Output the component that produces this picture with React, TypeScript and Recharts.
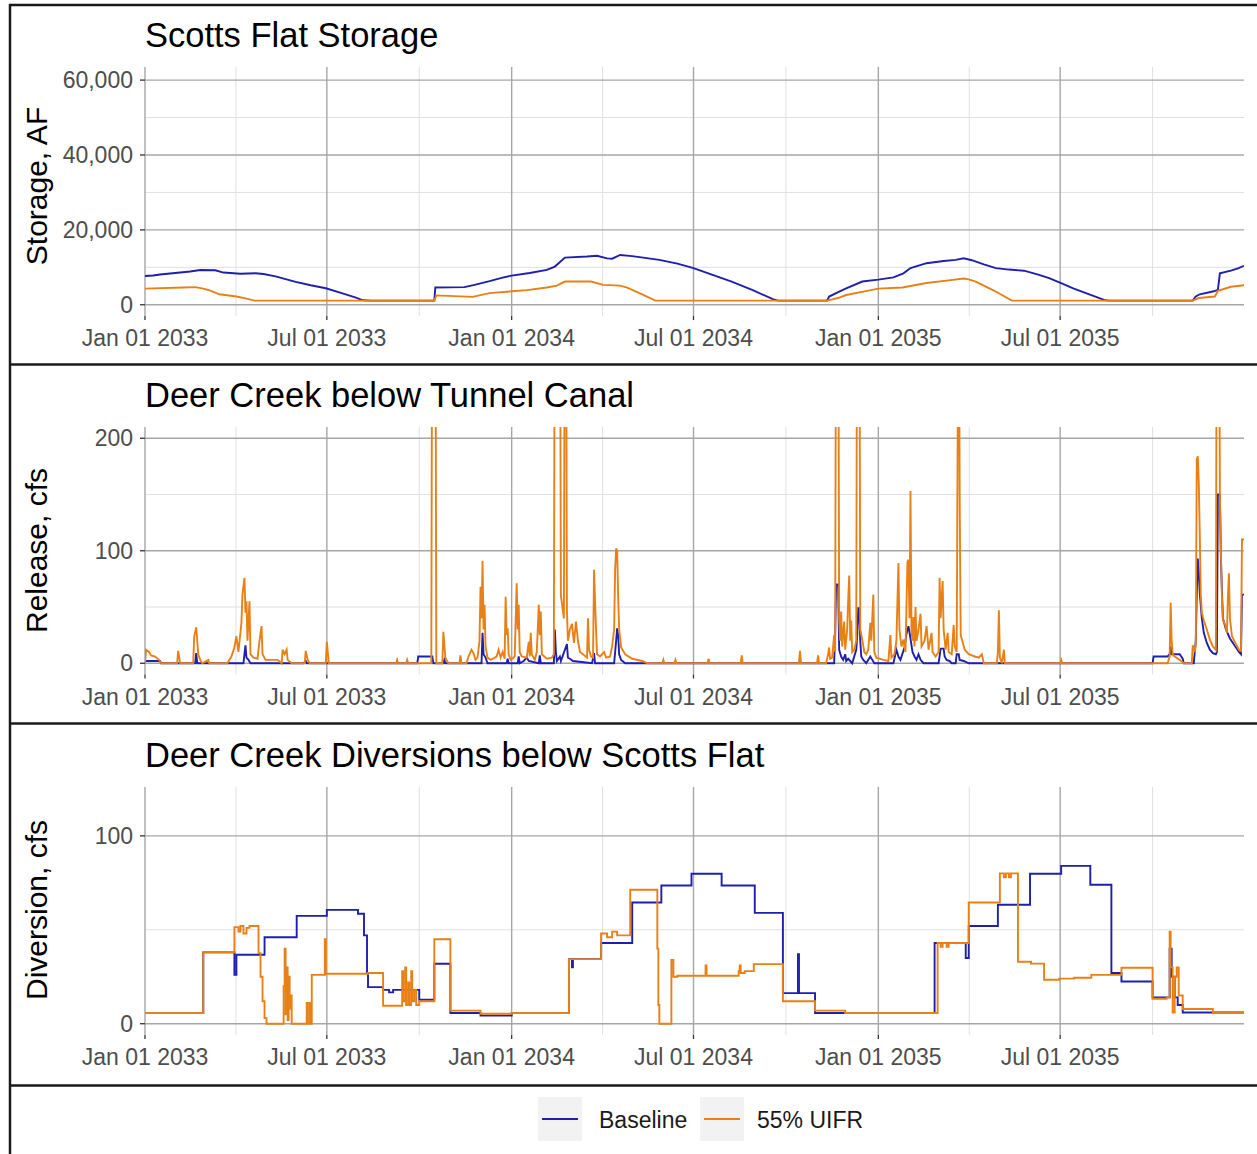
import React from "react";
import { LineChart, Line, XAxis, YAxis, CartesianGrid } from "recharts";

type Pt = [number, number];

// x axis: days since Jan 01 2033
const dateTicks = [0, 181, 365, 546, 730, 911];
const dateLabels = ["Jan 01 2033", "Jul 01 2033", "Jan 01 2034", "Jul 01 2034", "Jan 01 2035", "Jul 01 2035"];
const minorDates = [90.5, 273, 455.5, 638, 820.5, 1003];
const dayDomain = [0, 1094];

const storageTicks = [0, 20000, 40000, 60000];
const storageMinor = [10000, 30000, 50000];
const releaseTicks = [0, 100, 200];
const releaseMinor = [50, 150];
const diversionTicks = [0, 100];
const diversionMinor = [50];

const seriesNames = ["Baseline", "55% UIFR"];
const BLUE = "#1f1fae";
const ORANGE = "#e98015";

// Scotts Flat storage, AF
const storageBaseline: Pt[] = [
  [0, 7700], [8, 7800], [15, 8100], [30, 8500], [45, 8900], [55, 9300], [70, 9200], [78, 8600],
  [95, 8300], [110, 8400], [118, 8200], [130, 7600], [139, 6900], [150, 6100], [165, 5200],
  [180, 4400], [195, 3200], [210, 1900], [217, 1200], [225, 1100], [288, 1100], [289, 4600],
  [318, 4700], [328, 5300], [343, 6300], [355, 7200], [365, 7800], [383, 8500], [400, 9300],
  [408, 10200], [418, 12600], [440, 12900], [450, 13100], [460, 12400], [465, 12300], [473, 13300],
  [485, 13000], [512, 12000], [530, 11000], [546, 9800], [565, 8000], [584, 6200], [605, 3900],
  [625, 1500], [630, 1100], [679, 1100], [681, 2200], [690, 3400], [698, 4400], [714, 6200],
  [730, 6700], [745, 7300], [755, 8400], [762, 9800], [778, 11100], [795, 11700], [807, 12000],
  [815, 12400], [823, 11900], [835, 10800], [847, 9800], [860, 9400], [875, 9100], [890, 8000],
  [900, 7100], [912, 5800], [924, 4400], [940, 2800], [956, 1200], [960, 1100], [1043, 1100],
  [1046, 2200], [1050, 2800], [1064, 3600], [1068, 4000], [1070, 8400], [1081, 9100],
  [1088, 9700], [1094, 10400],
];
const storageUifr: Pt[] = [
  [0, 4300], [38, 4600], [50, 4700], [58, 4300], [65, 3800], [74, 2800], [91, 2200], [100, 1700],
  [109, 1100], [288, 1100], [290, 2500], [326, 2100], [343, 3100], [365, 3600], [380, 3900],
  [400, 4600], [410, 5100], [418, 6200], [444, 6200], [456, 5300], [473, 5100], [480, 4600],
  [495, 2800], [508, 1100], [679, 1100], [690, 1800], [698, 2600], [715, 3500], [730, 4300],
  [754, 4600], [778, 5800], [800, 6500], [815, 7000], [820, 6800], [827, 6200], [845, 3800],
  [863, 1100], [1043, 1100], [1049, 1800], [1065, 2200], [1068, 3700], [1081, 4800], [1094, 5200],
];

// Deer Creek below Tunnel Canal, cfs
const releaseBaseline: Pt[] = [
  [0, 2], [15, 2], [16, 0], [50, 0], [51, 9], [52, 0], [98, 0], [99, 8], [100, 16], [101, 5],
  [103, 3], [105, 0], [158, 0], [160, 2], [161, 0], [271, 0], [272, 6], [286, 6], [287, 0],
  [297, 0], [298, 3], [299, 0], [335, 0], [336, 27], [337, 8], [339, 5], [341, 0], [360, 0],
  [361, 4], [362, 0], [371, 0], [372, 6], [373, 0], [377, 2], [380, 5], [382, 2], [392, 0],
  [393, 7], [394, 0], [407, 0], [408, 30], [409, 10], [410, 2], [413, 6], [414, 2], [420, 17],
  [421, 5], [423, 4], [426, 2], [445, 0], [447, 9], [448, 0], [467, 0], [469, 20], [470, 31],
  [471, 25], [472, 8], [474, 3], [478, 0], [686, 0], [687, 25], [688, 70], [690, 70], [691, 12],
  [693, 6], [695, 3], [697, 8], [698, 2], [700, 4], [702, 2], [704, 0], [708, 12], [709, 25],
  [710, 49], [711, 49], [712, 20], [713, 6], [715, 3], [718, 0], [722, 6], [724, 3], [726, 0],
  [745, 0], [748, 12], [750, 6], [752, 3], [756, 14], [758, 26], [760, 33], [762, 22], [764, 10],
  [766, 6], [768, 3], [770, 8], [772, 3], [775, 0], [790, 0], [792, 13], [795, 13], [796, 6],
  [798, 3], [801, 2], [803, 0], [807, 0], [808, 8], [810, 8], [811, 3], [815, 2], [820, 0],
  [1003, 0], [1004, 6], [1018, 6], [1020, 8], [1021, 15], [1022, 8], [1030, 8], [1033, 4],
  [1034, 0], [1044, 0], [1046, 20], [1047, 62], [1048, 93], [1049, 80], [1050, 62], [1052, 40],
  [1054, 27], [1057, 18], [1060, 12], [1063, 9], [1066, 8], [1067, 10], [1068, 150], [1070, 150],
  [1071, 92], [1073, 40], [1076, 30], [1078, 26], [1080, 22], [1083, 18], [1086, 14], [1089, 10],
  [1091, 8], [1092, 61], [1094, 61],
];
const releaseUifr: Pt[] = [
  [0, 0], [1, 12], [4, 10], [6, 7], [10, 6], [14, 3], [16, 0], [32, 0], [33, 11], [35, 0],
  [48, 0], [49, 24], [51, 32], [52, 20], [53, 8], [55, 3], [57, 0], [63, 3], [64, 0], [82, 0],
  [86, 6], [89, 14], [91, 24], [93, 10], [96, 36], [97, 61], [99, 76], [100, 45], [101, 55],
  [102, 20], [104, 55], [105, 8], [108, 5], [112, 4], [114, 20], [116, 33], [117, 8], [120, 3],
  [132, 3], [136, 0], [137, 12], [139, 8], [141, 12], [142, 3], [146, 0], [159, 0], [160, 11],
  [162, 3], [164, 0], [180, 0], [181, 19], [183, 0], [250, 0], [251, 3], [252, 0], [260, 0],
  [261, 3], [262, 0], [285, 0], [286, 400], [289, 400], [290, 0], [296, 0], [297, 28], [299, 5],
  [302, 0], [313, 0], [314, 7], [315, 0], [320, 0], [322, 6], [325, 12], [327, 9], [329, 3],
  [331, 5], [333, 20], [334, 68], [335, 40], [336, 91], [337, 30], [338, 52], [339, 15], [341, 5],
  [344, 3], [350, 6], [352, 12], [354, 5], [356, 10], [358, 4], [359, 59], [360, 25], [361, 31],
  [362, 8], [364, 3], [368, 6], [370, 71], [371, 30], [372, 52], [373, 10], [375, 6], [380, 5],
  [382, 19], [383, 6], [384, 27], [385, 8], [388, 3], [390, 10], [392, 52], [393, 25], [394, 46],
  [395, 8], [400, 4], [405, 5], [407, 8], [408, 400], [413, 400], [414, 60], [417, 40], [418, 400],
  [419, 400], [420, 47], [421, 20], [423, 30], [425, 35], [427, 18], [429, 37], [431, 20],
  [433, 10], [436, 8], [440, 5], [441, 40], [442, 12], [444, 6], [446, 5], [447, 83], [449, 30],
  [450, 8], [453, 6], [457, 10], [459, 5], [463, 6], [465, 15], [467, 30], [468, 84], [469, 102],
  [470, 100], [471, 60], [472, 30], [474, 14], [478, 8], [485, 4], [495, 2], [500, 0], [515, 0],
  [516, 3], [517, 0], [527, 0], [528, 3], [529, 0], [560, 0], [561, 4], [562, 0], [593, 0],
  [594, 7], [595, 0], [651, 0], [652, 11], [653, 0], [669, 0], [670, 7], [671, 0], [678, 0],
  [680, 8], [681, 14], [682, 4], [684, 5], [686, 25], [687, 10], [688, 400], [690, 400], [691, 40],
  [692, 20], [693, 46], [694, 15], [696, 37], [697, 12], [699, 30], [700, 56], [701, 78], [702, 20],
  [703, 38], [704, 10], [706, 12], [708, 20], [709, 400], [711, 400], [712, 30], [714, 21],
  [716, 10], [718, 8], [720, 12], [722, 36], [723, 20], [725, 61], [726, 10], [728, 5], [735, 3],
  [740, 2], [742, 25], [743, 5], [746, 8], [748, 20], [750, 89], [751, 30], [753, 15], [755, 21],
  [757, 10], [759, 90], [760, 92], [761, 40], [762, 153], [763, 30], [764, 20], [765, 41],
  [766, 15], [767, 50], [768, 20], [770, 30], [772, 44], [773, 15], [776, 20], [778, 33], [780, 12],
  [783, 27], [784, 10], [787, 6], [790, 10], [791, 76], [792, 40], [794, 73], [795, 30], [797, 12],
  [799, 27], [800, 10], [803, 8], [805, 34], [806, 15], [808, 10], [810, 400], [811, 142],
  [812, 25], [816, 12], [820, 8], [826, 6], [830, 5], [833, 8], [835, 0], [848, 0], [849, 10],
  [850, 47], [851, 5], [853, 0], [855, 12], [856, 0], [911, 0], [912, 3], [913, 0], [1018, 0],
  [1020, 6], [1021, 54], [1022, 20], [1023, 8], [1025, 6], [1030, 3], [1034, 0], [1042, 0],
  [1043, 16], [1045, 10], [1046, 16], [1047, 181], [1048, 184], [1049, 160], [1050, 113],
  [1051, 60], [1052, 45], [1054, 38], [1057, 30], [1060, 21], [1063, 15], [1066, 12], [1067, 400],
  [1069, 400], [1070, 150], [1071, 100], [1072, 60], [1073, 38], [1075, 35], [1077, 27], [1078, 60],
  [1079, 80], [1080, 40], [1082, 24], [1086, 17], [1089, 12], [1091, 11], [1092, 110], [1094, 110],
];

// Deer Creek diversions below Scotts Flat, cfs (values hold until next day listed)
const diversionBaseline: Pt[] = [
  [0, 5.7], [58, 38], [89, 26], [91, 36.7], [119, 46], [151, 57.4], [181, 60.6], [212, 58.5],
  [218, 47], [221, 27], [222, 19.5], [237, 18], [243, 16.7], [247, 18], [273, 12.8], [288, 31.9],
  [304, 5.7], [334, 4.3], [365, 5.7], [422, 34.4], [425, 30], [426, 34.4], [454, 43], [485, 64.5],
  [514, 73.6], [544, 79.8], [574, 73.6], [607, 59], [635, 16.3], [650, 37], [651, 16.3],
  [667, 5.7], [786, 43], [817, 35], [820, 52], [849, 63.3], [881, 79.8], [912, 84], [941, 74],
  [962, 27], [972, 22.5], [1003, 14], [1017, 14], [1020, 40], [1022, 25], [1025, 14], [1028, 10],
  [1033, 6], [1094, 6],
];
const diversionUifr: Pt[] = [
  [0, 5.7], [58, 38], [89, 51.4], [93, 49], [95, 52], [98, 48], [101, 51], [104, 52], [113, 37.6],
  [115, 25], [117, 12], [119, 3], [121, 0], [137, 0], [138, 20], [139, 40], [140, 5], [141, 30],
  [142, 2], [143, 25], [144, 8], [145, 15], [146, 0], [160, 0], [161, 11], [162, 0], [164, 11],
  [165, 0], [166, 26], [178, 26], [179, 45], [180, 26.6], [220, 26.6], [222, 27], [237, 9.6],
  [255, 9.6], [256, 28], [257, 12], [259, 30], [260, 10], [262, 22], [263, 10], [265, 28],
  [266, 12], [268, 18], [270, 10], [273, 12], [288, 45], [304, 7], [334, 5.3], [365, 5.7],
  [422, 34.4], [454, 48], [460, 46], [465, 49], [470, 47], [483, 71.3], [510, 40], [511, 10],
  [512, 0], [524, 34], [526, 25], [530, 25.5], [557, 25.5], [558, 31], [559, 25.5], [591, 28],
  [592, 31], [593, 27], [597, 28], [606, 31.7], [635, 12], [667, 7], [697, 5.7], [789, 43],
  [792, 41], [794, 43], [798, 41], [800, 43], [820, 64.5], [851, 80], [855, 78], [857, 80],
  [860, 78], [862, 80], [869, 33], [882, 32], [895, 23.4], [910, 24], [925, 24.5], [942, 26],
  [972, 29.8], [1003, 13.3], [1017, 14], [1020, 49], [1021, 30], [1023, 6], [1025, 25],
  [1027, 30], [1029, 15], [1033, 7.8], [1063, 5.7], [1094, 5.7],
];

const FONT = "'Liberation Sans', Arial, sans-serif";
const toRows = (pts: Pt[]) => pts.map(([day, value]) => ({ day, value }));
const dateLabel = (v: number) => dateLabels[dateTicks.indexOf(v)] ?? "";

type PanelProps = {
  top: number;
  height: number;
  plotTop: number;
  plotBottom: number;
  yDomain: number[];
  yTicks: number[];
  yMinor: number[];
  yFormat: (v: number) => string;
  baseline: Pt[];
  uifr: Pt[];
  lineType: "linear" | "stepAfter";
};

function Panel(p: PanelProps) {
  return (
    <div style={{ position: "absolute", left: 0, top: p.top }}>
      <LineChart
        width={1257}
        height={p.height}
        margin={{ top: p.plotTop, right: 13, bottom: 0, left: 0 }}
      >
        <CartesianGrid horizontalValues={p.yMinor} verticalValues={minorDates} stroke="#e0e0e0" strokeWidth={1} />
        <CartesianGrid horizontalValues={p.yTicks} verticalValues={dateTicks} stroke="#a6a6a6" strokeWidth={1.4} />
        <XAxis
          type="number"
          dataKey="day"
          domain={dayDomain}
          ticks={dateTicks}
          interval={0}
          tickFormatter={dateLabel}
          height={p.height - p.plotBottom}
          axisLine={false}
          tickSize={4}
          tickMargin={10}
          tickLine={{ stroke: "#333333", strokeWidth: 1.3 }}
          tick={{ fill: "#4d4d4d", fontSize: 23, fontFamily: FONT }}
          allowDataOverflow
        />
        <YAxis
          type="number"
          domain={p.yDomain}
          ticks={p.yTicks}
          interval={0}
          tickFormatter={p.yFormat}
          width={145}
          axisLine={false}
          tickSize={5}
          tickMargin={7}
          tickLine={{ stroke: "#333333", strokeWidth: 1.3 }}
          tick={{ fill: "#4d4d4d", fontSize: 23, fontFamily: FONT }}
          allowDataOverflow
        />
        <Line
          data={toRows(p.baseline)}
          dataKey="value"
          name={seriesNames[0]}
          type={p.lineType}
          stroke={BLUE}
          strokeWidth={1.9}
          dot={false}
          isAnimationActive={false}
        />
        <Line
          data={toRows(p.uifr)}
          dataKey="value"
          name={seriesNames[1]}
          type={p.lineType}
          stroke={ORANGE}
          strokeWidth={1.9}
          dot={false}
          isAnimationActive={false}
        />
      </LineChart>
    </div>
  );
}

const titles = ["Scotts Flat Storage", "Deer Creek below Tunnel Canal", "Deer Creek Diversions below Scotts Flat"];
const axisTitles = ["Storage, AF", "Release, cfs", "Diversion, cfs"];

export default function App() {
  return (
    <div style={{ position: "absolute", left: 0, top: 0, width: 1257, height: 1154, background: "#fff", overflow: "hidden" }}>
      <Panel
        top={0}
        height={364}
        plotTop={67}
        plotBottom={316}
        yDomain={[-3000, 63500]}
        yTicks={storageTicks}
        yMinor={storageMinor}
        yFormat={(v) => v.toLocaleString("en-US")}
        baseline={storageBaseline}
        uifr={storageUifr}
        lineType="linear"
      />
      <Panel
        top={364}
        height={359}
        plotTop={63}
        plotBottom={310.5}
        yDomain={[-10, 210]}
        yTicks={releaseTicks}
        yMinor={releaseMinor}
        yFormat={(v) => String(v)}
        baseline={releaseBaseline}
        uifr={releaseUifr}
        lineType="linear"
      />
      <Panel
        top={723}
        height={362}
        plotTop={64}
        plotBottom={312}
        yDomain={[-6, 126]}
        yTicks={diversionTicks}
        yMinor={diversionMinor}
        yFormat={(v) => String(v)}
        baseline={diversionBaseline}
        uifr={diversionUifr}
        lineType="stepAfter"
      />
      <svg width={1257} height={1154} style={{ position: "absolute", left: 0, top: 0, pointerEvents: "none" }}>
        <g fontFamily={FONT}>
          {[46.5, 406.5, 766.5].map((y, i) => (
            <text key={titles[i]} x={145} y={y} fontSize={34.5} fill="#000">
              {titles[i]}
            </text>
          ))}
          {[186, 550.5, 910].map((cy, i) => (
            <text key={axisTitles[i]} transform={`translate(47,${cy}) rotate(-90)`} textAnchor="middle" fontSize={30} fill="#000">
              {axisTitles[i]}
            </text>
          ))}
          <rect x={538} y={1097} width={44} height={44} fill="#f2f2f2" />
          <line x1={542} x2={578} y1={1119} y2={1119} stroke={BLUE} strokeWidth={1.9} />
          <text x={599} y={1128} fontSize={23} fill="#1a1a1a">{seriesNames[0]}</text>
          <rect x={700} y={1097} width={44} height={44} fill="#f2f2f2" />
          <line x1={704} x2={740} y1={1119} y2={1119} stroke={ORANGE} strokeWidth={1.9} />
          <text x={757} y={1128} fontSize={23} fill="#1a1a1a">{seriesNames[1]}</text>
        </g>
        <g stroke="#1a1a1a" strokeWidth={2.5}>
          <line x1={9} x2={1257} y1={5} y2={5} />
          <line x1={10} x2={10} y1={4} y2={1154} />
          <line x1={9} x2={1257} y1={364.5} y2={364.5} />
          <line x1={9} x2={1257} y1={723.5} y2={723.5} />
          <line x1={9} x2={1257} y1={1085.5} y2={1085.5} />
        </g>
      </svg>
    </div>
  );
}
